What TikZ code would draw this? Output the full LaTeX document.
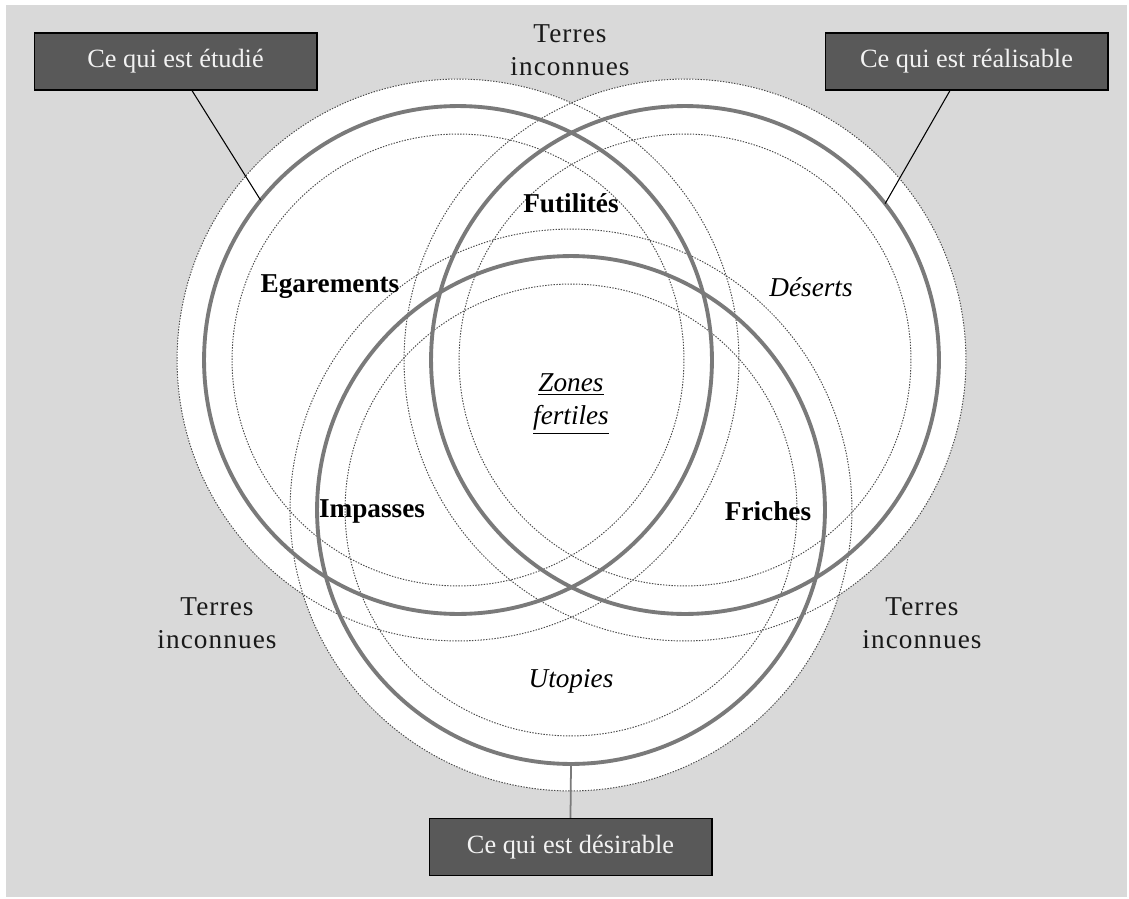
\documentclass[tikz,border=0pt]{standalone}
\usepackage{fontspec}
\setmainfont{Liberation Serif}
\newfontfamily\spacedfont[LetterSpace=4]{Liberation Serif}
\usetikzlibrary{calc}
\definecolor{bggray}{HTML}{D9D9D9}
\definecolor{ringgray}{HTML}{7A7A7A}
\definecolor{boxgray}{HTML}{595959}
\definecolor{boxtext}{HTML}{F2F2F2}
\definecolor{dotgray}{HTML}{4A4A4A}
\begin{document}
\begin{tikzpicture}[x=0.02cm,y=-0.02cm,
  ring/.style={circle, draw=ringgray, line width=2.2pt, minimum size=10.16cm, inner sep=0pt, outer sep=0pt},
  halo/.style={fill=white},
  dots/.style={draw=dotgray, line width=0.55pt, dash pattern=on 0.8pt off 0.8pt},
  tag/.style={draw=black, line width=0.6pt, fill=boxgray, text=boxtext, minimum width=5.66cm, minimum height=1.14cm, inner sep=0pt, font=\fontsize{15}{18}\selectfont},
  zone/.style={font=\bfseries\fontsize{15.5}{18}\selectfont, inner sep=1pt},
  soft/.style={font=\itshape\fontsize{15.5}{18.7}\selectfont, align=center, inner sep=1pt},
  terres/.style={font=\spacedfont\fontsize{15.5}{19}\selectfont, align=center, text=black!90, inner sep=1pt},
  lead/.style={draw=black, line width=0.6pt},
  leadgray/.style={draw=ringgray, line width=1pt}
]
\useasboundingbox (0,0) rectangle (1129,899);
\fill[bggray] (6,5) rectangle (1127,897);

\coordinate (cA) at (458,360);
\coordinate (cB) at (685,360);
\coordinate (cC) at (571,510);

% white halos
\fill[halo] (cA) circle (5.62cm);
\fill[halo] (cB) circle (5.62cm);
\fill[halo] (cC) circle (5.62cm);

% dotted circles
\draw[dots] (cA) circle (5.62cm);
\draw[dots] (cB) circle (5.62cm);
\draw[dots] (cC) circle (5.62cm);
\draw[dots] (cA) circle (4.52cm);
\draw[dots] (cB) circle (4.52cm);
\draw[dots] (cC) circle (4.52cm);

% thick rings
\node[ring] (A) at (cA) {};
\node[ring] (B) at (cB) {};
\node[ring] (C) at (cC) {};

% boxes
\node[tag] (s1) at (175.5,61.5) {Ce qui est étudié};
\node[tag] (s2) at (966.5,61.5) {Ce qui est réalisable};
\node[tag] (s3) at (570.5,847) {Ce qui est désirable};

% connectors
\draw[lead] ($(s1.south west)!0.558!(s1.south east)$) -- (A.141);
\draw[lead] ($(s2.south west)!0.442!(s2.south east)$) -- (B.38);
\draw[leadgray] (C.south) -- (s3.north);

% labels
\node[terres] (t1) at (570,50.5) {Terres\\inconnues};
\node[terres] (t2) at (217,623.5) {Terres\\inconnues};
\node[terres] (t3) at (922,623.5) {Terres\\inconnues};

\node[zone] (ega) at (330,287) {Egarements};
\node[zone] (fut) at (571,203) {Futilités};
\node[zone] (imp) at (372,511) {Impasses};
\node[zone] (fri) at (768,511) {Friches};
\node[soft] (des) at (811,287) {Déserts};
\node[soft] (uto) at (571,681) {Utopies};
\node[soft] (zon) at (571,404) {\underline{Zones}\\\underline{fertiles}};
\end{tikzpicture}
\end{document}
